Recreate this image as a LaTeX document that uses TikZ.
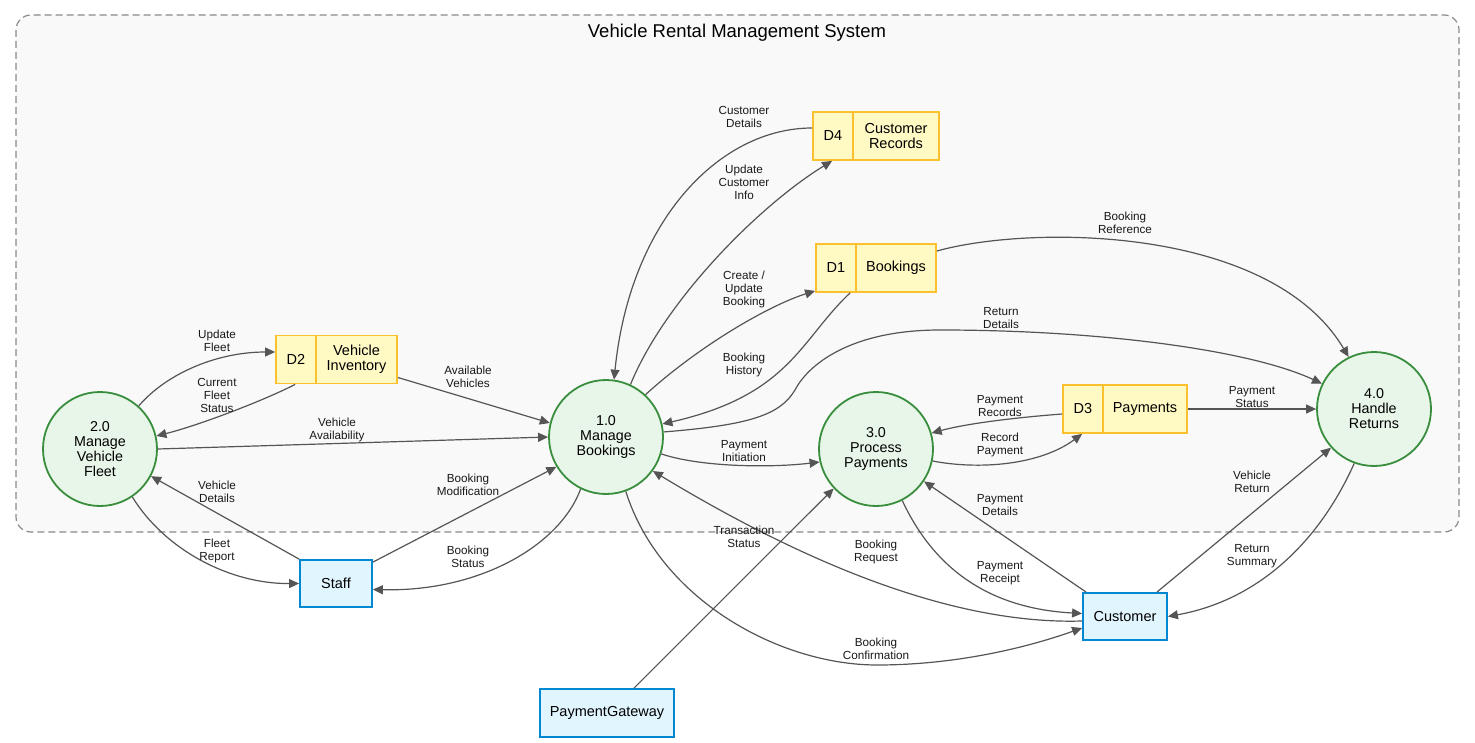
\documentclass[tikz,border=0pt]{standalone}
\usepackage{fontspec}
\setmainfont{Liberation Sans}
\usetikzlibrary{arrows.meta}
\definecolor{procfill}{HTML}{E8F5E9}
\definecolor{procline}{HTML}{388E3C}
\definecolor{storefill}{HTML}{FFF9C4}
\definecolor{storeline}{HTML}{FBC02D}
\definecolor{extfill}{HTML}{E1F5FE}
\definecolor{extline}{HTML}{0288D1}
\definecolor{flowc}{HTML}{555555}
\definecolor{bgfill}{HTML}{F9F9F9}
\definecolor{bgline}{HTML}{8A8A8A}
\begin{document}
\begin{tikzpicture}[x=1pt,y=-1pt,
 proc/.style={circle, draw=procline, fill=procfill, line width=1.8pt, minimum size=114pt, inner sep=0pt, align=center, font=\fontsize{14.3}{15}\selectfont},
 storebox/.style={draw=storeline, fill=storefill, line width=1.8pt, minimum width=#1, minimum height=48pt, inner sep=0pt},
 storetxt/.style={align=center, font=\fontsize{14.5}{15}\selectfont, inner sep=0pt},
 ext/.style={draw=extline, fill=extfill, line width=1.8pt, inner sep=0pt, font=\fontsize{14.5}{15}\selectfont},
 flow/.style={draw=flowc, line width=1.2pt, -{Triangle[length=10pt,width=9pt]}},
 lbl/.style={align=center, font=\fontsize{11.7}{13}\selectfont, inner sep=0pt, text=black!90},
 divider/.style={draw=storeline, line width=1.8pt},
]
\useasboundingbox (0,0) rectangle (1475,743);
% system boundary
\draw[draw=bgline, fill=bgfill, dash pattern=on 7pt off 4pt, line width=1.2pt, rounded corners=15pt] (16,15) rectangle (1459,532);
\node[font=\fontsize{18.5}{20}\selectfont] (title) at (737,33) {Vehicle Rental Management System};

% processes
\node[proc] (c2) at (100,449) {2.0\\Manage\\Vehicle\\Fleet};
\node[proc] (c1) at (606,437) {1.0\\Manage\\Bookings};
\node[proc] (c3) at (876,449) {3.0\\Process\\Payments};
\node[proc] (c4) at (1374,409) {4.0\\Handle\\Returns};

% data stores
\node[storebox=121pt] (d2) at (336.5,359.5) {};
\draw[divider] (316,336) -- (316,383);
\node[storetxt] (d2id) at (296,359.5) {D2};
\node[storetxt] (d2lb) at (356.5,359.5) {Vehicle\\Inventory};

\node[storebox=126pt] (d4) at (876,136) {};
\draw[divider] (853,112) -- (853,160);
\node[storetxt] (d4id) at (833,136) {D4};
\node[storetxt] (d4lb) at (896,136) {Customer\\Records};

\node[storebox=120pt] (d1) at (876,268) {};
\draw[divider] (856,244) -- (856,292);
\node[storetxt] (d1id) at (836,268) {D1};
\node[storetxt] (d1lb) at (896,268) {Bookings};

\node[storebox=124pt] (d3) at (1125,409) {};
\draw[divider] (1103,385) -- (1103,433);
\node[storetxt] (d3id) at (1083,409) {D3};
\node[storetxt] (d3lb) at (1145,409) {Payments};

% external entities
\node[ext, minimum width=72pt, minimum height=47pt] (staff) at (336,583.5) {Staff};
\node[ext, minimum width=84pt, minimum height=47pt] (customer) at (1125,616.5) {Customer};
\node[ext, minimum width=134pt, minimum height=48pt] (pg) at (607,713) {PaymentGateway};

% flows
\draw[flow] (c2.48) .. controls (165,375) and (215,352) .. ([yshift=7.5pt]d2.west);
\draw[flow] ([xshift=20pt]d2.south west) .. controls (265,400) and (200,425) .. (c2.13);
\draw[flow] (c2.0) -- (c1.180);
\draw[flow] (staff.north west) -- (c2.-28);
\draw[flow] (c2.-56) .. controls (165,550) and (230,584) .. (staff.west);
\draw[flow] ([yshift=-18pt]d2.east) -- (c1.166);
\draw[flow] ([yshift=-3pt]staff.north east) -- (c1.211);
\draw[flow] (c1.244) .. controls (560,545) and (480,592) .. ([yshift=-6pt]staff.east);
\draw[flow] ([yshift=8pt]d4.west) .. controls (720,128) and (630,220) .. (c1.82);
\draw[flow] (c1.65) .. controls (665,300) and (760,205) .. ([xshift=20pt]d4.south west);
\draw[flow] (c1.47) .. controls (700,345) and (770,305) .. ([yshift=2pt]d1.south west);
\draw[flow] ([xshift=35pt]d1.south west) .. controls (800,340) and (790,395) .. (c1.13);
\draw[flow] (c1.5) .. controls (750,425) and (780,415) .. (795,390) .. controls (808,365) and (850,330) .. (940,330) .. controls (1100,330) and (1250,350) .. (c4.154);
\draw[flow] ([yshift=17pt]d1.east) .. controls (1030,225) and (1270,225) .. (c4.116);
\draw[flow] (c1.-17) .. controls (700,467) and (770,468) .. (c3.193);
\draw[flow] ([yshift=-5pt]d3.west) .. controls (1010,418) and (965,424) .. (c3.16);
\draw[flow] (c3.-12) .. controls (980,470) and (1040,465) .. ([xshift=20pt]d3.south west);
\draw[flow] (d3.east) -- (c4.180);
\draw[flow] ([xshift=4pt]customer.north west) -- (c3.-34);
\draw[flow] (c3.-63) .. controls (930,560) and (980,608) .. ([yshift=3pt]customer.west);
\draw[flow] ([yshift=-4.5pt]customer.west) .. controls (950,625) and (800,560) .. (c1.-36);
\draw[flow] (c1.-70) .. controls (660,600) and (780,665) .. (877,665) .. controls (950,665) and (1020,650) .. ([yshift=-11.5pt]customer.west);
\draw[flow] ([xshift=27pt]pg.north) -- (c3.223);
\draw[flow] ([xshift=-11pt]customer.north east) -- (c4.222);
\draw[flow] (c4.250) .. controls (1320,540) and (1260,600) .. (customer.east);

% labels
\node[lbl] (l1) at (217,341) {Update\\Fleet};
\node[lbl] (l2) at (217,395) {Current\\Fleet\\Status};
\node[lbl] (l3) at (337,430) {Vehicle\\Availability};
\node[lbl] (l4) at (217,492) {Vehicle\\Details};
\node[lbl] (l5) at (217,551) {Fleet\\Report};
\node[lbl] (l6) at (468,377) {Available\\Vehicles};
\node[lbl] (l7) at (468,485) {Booking\\Modification};
\node[lbl] (l8) at (468,557) {Booking\\Status};
\node[lbl] (l9) at (744,117) {Customer\\Details};
\node[lbl] (l10) at (744,182) {Update\\Customer\\Info};
\node[lbl] (l11) at (744,289) {Create /\\Update\\Booking};
\node[lbl] (l12) at (744,365) {Booking\\History};
\node[lbl] (l13) at (1001,318) {Return\\Details};
\node[lbl] (l14) at (1125,223) {Booking\\Reference};
\node[lbl] (l15) at (744,451) {Payment\\Initiation};
\node[lbl] (l16) at (1000,406) {Payment\\Records};
\node[lbl] (l17) at (1000,445) {Record\\Payment};
\node[lbl] (l18) at (1252,397) {Payment\\Status};
\node[lbl] (l19) at (1000,505) {Payment\\Details};
\node[lbl] (l20) at (1000,573) {Payment\\Receipt};
\node[lbl] (l21) at (876,552) {Booking\\Request};
\node[lbl] (l22) at (876,649) {Booking\\Confirmation};
\node[lbl] (l23) at (744,537) {Transaction\\Status};
\node[lbl] (l24) at (1252,482) {Vehicle\\Return};
\node[lbl] (l25) at (1252,556) {Return\\Summary};
\end{tikzpicture}
\end{document}
